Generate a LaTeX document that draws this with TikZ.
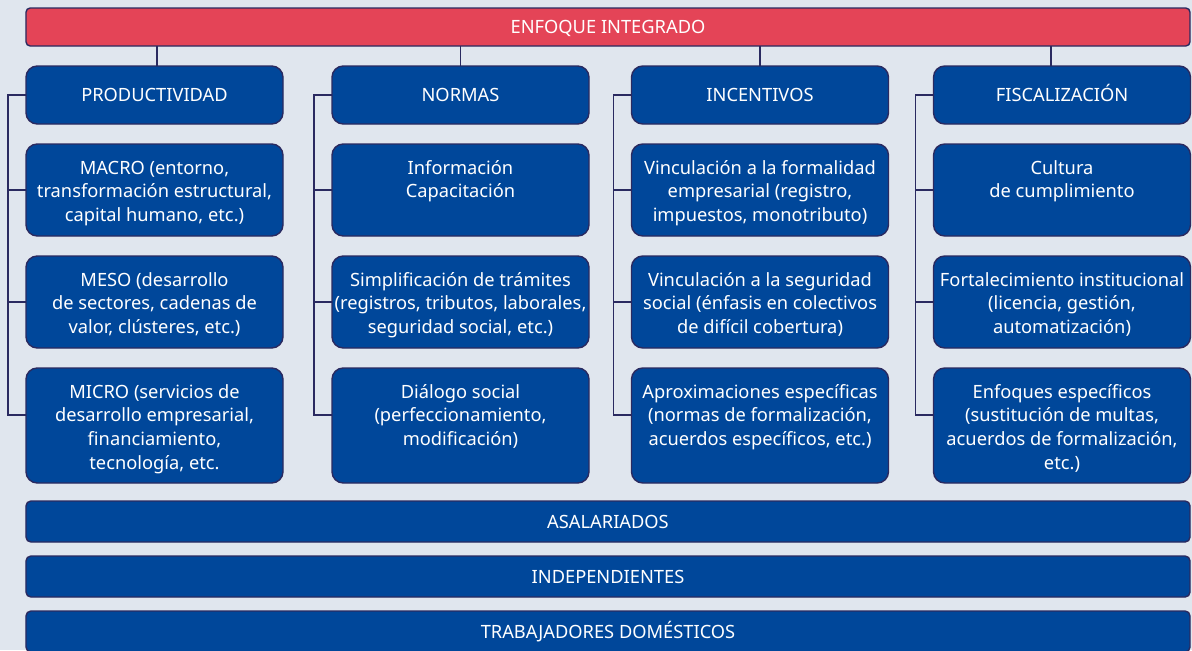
\documentclass[tikz,border=0pt]{standalone}
\usepackage{fontspec}
\setmainfont{Noto Sans}
\usepackage{xcolor}
\definecolor{pagebg}{RGB}{224,230,238}
\definecolor{boxblue}{RGB}{0,71,154}
\definecolor{topred}{RGB}{228,68,87}
\definecolor{edgeline}{RGB}{42,42,96}
\usepackage{tikz}
\usetikzlibrary{positioning}

\newcommand{\celltext}[2][2.3cm]{\parbox[c][#1][t]{6.425cm}{\centering\rule{0pt}{0.75cm}#2}}

\begin{document}
\begin{tikzpicture}[
    node distance=0.5cm,
    txt/.style={text=white, font=\fontsize{13}{17}\selectfont},
    bar/.style={txt, draw=edgeline, line width=1pt, outer sep=0pt, rectangle, rounded corners=3.5pt, minimum width=29.1cm, minimum height=1.025cm, text height=9.3pt, text depth=0pt, fill=boxblue},
    head/.style={bar, rounded corners=8pt, minimum width=6.425cm, minimum height=1.45cm},
    cell/.style={txt, draw=edgeline, line width=1pt, outer sep=0pt, fill=boxblue, rounded corners=8pt, inner sep=0pt},
    link/.style={draw=edgeline, line width=1pt}
]

% Background
\fill[pagebg] (0,0) rectangle (29.8,-16.25);
\useasboundingbox (0,0) rectangle (29.8,-16.25);
\clip (0,0) rectangle (29.8,-16.25);

% Top bar
\node[bar, fill=topred, minimum height=0.95cm, rounded corners=3pt] (top) at (15.2,-0.675) {ENFOQUE INTEGRADO};

% Headers
\node[head] (prod) at (3.8625,-2.375) {PRODUCTIVIDAD};
\node[head] (normas) at (11.5125,-2.375) {NORMAS};
\node[head] (incent) at (19.0,-2.375) {INCENTIVOS};
\node[head] (fisc) at (26.55,-2.375) {FISCALIZACIÓN};

% Column boxes
\node[cell, below=of prod] (macro) {\celltext{MACRO (entorno,\\ transformación estructural,\\ capital humano, etc.)}};
\node[cell, below=of macro] (meso) {\celltext{MESO (desarrollo\\ de sectores, cadenas de\\ valor, clústeres, etc.)}};
\node[cell, below=of meso] (micro) {\celltext[2.875cm]{MICRO (servicios de\\ desarrollo empresarial,\\ financiamiento,\\ tecnología, etc.}};

\node[cell, below=of normas] (info) {\celltext{Información\\ Capacitación}};
\node[cell, below=of info] (simpl) {\celltext{Simplificación de trámites\\ (registros, tributos, laborales,\\ seguridad social, etc.)}};
\node[cell, below=of simpl] (dialogo) {\celltext[2.875cm]{Diálogo social\\ (perfeccionamiento,\\ modificación)}};

\node[cell, below=of incent] (vincemp) {\celltext{Vinculación a la formalidad\\ empresarial (registro,\\ impuestos, monotributo)}};
\node[cell, below=of vincemp] (vincseg) {\celltext{Vinculación a la seguridad\\ social (énfasis en colectivos\\ de difícil cobertura)}};
\node[cell, below=of vincseg] (aprox) {\celltext[2.875cm]{Aproximaciones específicas\\ (normas de formalización,\\ acuerdos específicos, etc.)}};

\node[cell, below=of fisc] (cultura) {\celltext{Cultura\\ de cumplimiento}};
\node[cell, below=of cultura] (fortal) {\celltext{Fortalecimiento institucional\\ (licencia, gestión,\\ automatización)}};
\node[cell, below=of fortal] (enfoques) {\celltext[2.875cm]{Enfoques específicos\\ (sustitución de multas,\\ acuerdos de formalización,\\ etc.)}};

% Worker bars
\node[bar] (asal) at (15.2,-13.0375) {ASALARIADOS};
\node[bar] (indep) at (15.2,-14.4125) {INDEPENDIENTES};
\node[bar] (domest) at (15.2,-15.7875) {TRABAJADORES DOMÉSTICOS};

% Links from top bar
\draw[link] ([xshift=0.06cm]prod.north) -- ([xshift=0.06cm]prod.north |- top.south);
\draw[link] (normas.north) -- (normas.north |- top.south);
\draw[link] (incent.north) -- (incent.north |- top.south);
\draw[link] ([xshift=-0.275cm]fisc.north) -- ([xshift=-0.275cm]fisc.north |- top.south);

% Brackets
\draw[link] (prod.west) -- ++(-0.45,0) |- ([yshift=0.26cm]micro.west);
\draw[link] (macro.west) -- ++(-0.45,0);
\draw[link] (meso.west) -- ++(-0.45,0);

\draw[link] (normas.west) -- ++(-0.45,0) |- ([yshift=0.26cm]dialogo.west);
\draw[link] (info.west) -- ++(-0.45,0);
\draw[link] (simpl.west) -- ++(-0.45,0);

\draw[link] (incent.west) -- ++(-0.45,0) |- ([yshift=0.26cm]aprox.west);
\draw[link] (vincemp.west) -- ++(-0.45,0);
\draw[link] (vincseg.west) -- ++(-0.45,0);

\draw[link] (fisc.west) -- ++(-0.45,0) |- ([yshift=0.26cm]enfoques.west);
\draw[link] (cultura.west) -- ++(-0.45,0);
\draw[link] (fortal.west) -- ++(-0.45,0);

\end{tikzpicture}
\end{document}
